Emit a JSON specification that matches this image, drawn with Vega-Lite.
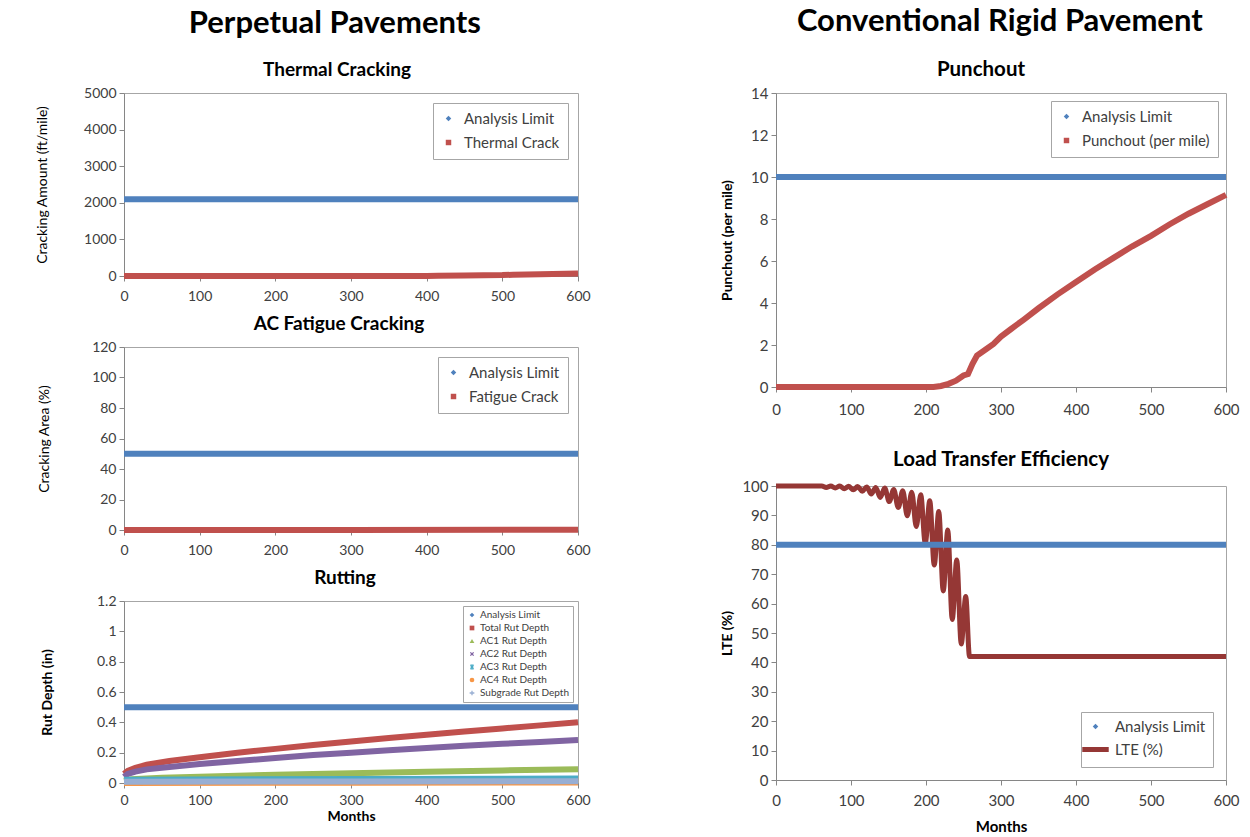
{
  "$schema": "https://vega.github.io/schema/vega-lite/v6.json",
  "background": "white",
  "padding": {"left": 35, "top": 6, "right": 4, "bottom": 0},
  "config": {
    "font": "Lato",
    "view": {"stroke": "#A6A6A6", "strokeWidth": 1},
    "axis": {"grid": false, "domainColor": "#868686", "tickColor": "#868686", "tickSize": 5, "labelFont": "Lato", "labelFontSize": 14, "labelColor": "#404040", "titleFont": "Lato", "titleFontSize": 13, "titleFontWeight": "bold", "titleColor": "#000000", "labelPadding": 3, "labelFlush": false},
    "title": {"font": "Lato", "fontSize": 19, "fontWeight": "bold", "color": "#000000", "offset": 6, "anchor": "middle"},
    "legend": {"title": null, "strokeColor": "#A6A6A6", "fillColor": "white", "labelFont": "Lato", "labelColor": "#404040"}
  },
  "datasets": {
    "thermal": [
      {"m": 0, "v": 2100, "s": "Analysis Limit"}, {"m": 600, "v": 2100, "s": "Analysis Limit"},
      {"m": 0, "v": 0, "s": "Thermal Crack"}, {"m": 100, "v": 0, "s": "Thermal Crack"}, {"m": 200, "v": 0, "s": "Thermal Crack"}, {"m": 300, "v": 0, "s": "Thermal Crack"}, {"m": 400, "v": 0, "s": "Thermal Crack"}, {"m": 415, "v": 5, "s": "Thermal Crack"}, {"m": 450, "v": 13, "s": "Thermal Crack"}, {"m": 500, "v": 25, "s": "Thermal Crack"}, {"m": 514, "v": 35, "s": "Thermal Crack"}, {"m": 550, "v": 48, "s": "Thermal Crack"}, {"m": 600, "v": 68, "s": "Thermal Crack"}
    ],
    "fatigue": [
      {"m": 0, "v": 50, "s": "Analysis Limit"}, {"m": 600, "v": 50, "s": "Analysis Limit"},
      {"m": 0, "v": 0, "s": "Fatigue Crack"}, {"m": 300, "v": 0.05, "s": "Fatigue Crack"}, {"m": 600, "v": 0.1, "s": "Fatigue Crack"}
    ],
    "rutting": [
      {"m": 0, "v": 0.5, "s": "Analysis Limit"}, {"m": 600, "v": 0.5, "s": "Analysis Limit"},
      {"m": 0, "v": 0.06, "s": "Total Rut Depth"}, {"m": 5, "v": 0.08, "s": "Total Rut Depth"}, {"m": 15, "v": 0.1, "s": "Total Rut Depth"}, {"m": 30, "v": 0.12, "s": "Total Rut Depth"}, {"m": 60, "v": 0.145, "s": "Total Rut Depth"}, {"m": 100, "v": 0.17, "s": "Total Rut Depth"}, {"m": 150, "v": 0.2, "s": "Total Rut Depth"}, {"m": 200, "v": 0.225, "s": "Total Rut Depth"}, {"m": 250, "v": 0.25, "s": "Total Rut Depth"}, {"m": 300, "v": 0.273, "s": "Total Rut Depth"}, {"m": 350, "v": 0.296, "s": "Total Rut Depth"}, {"m": 400, "v": 0.318, "s": "Total Rut Depth"}, {"m": 450, "v": 0.34, "s": "Total Rut Depth"}, {"m": 500, "v": 0.36, "s": "Total Rut Depth"}, {"m": 550, "v": 0.38, "s": "Total Rut Depth"}, {"m": 600, "v": 0.4, "s": "Total Rut Depth"},
      {"m": 0, "v": 0.015, "s": "AC1 Rut Depth"}, {"m": 10, "v": 0.025, "s": "AC1 Rut Depth"}, {"m": 50, "v": 0.035, "s": "AC1 Rut Depth"}, {"m": 100, "v": 0.042, "s": "AC1 Rut Depth"}, {"m": 200, "v": 0.055, "s": "AC1 Rut Depth"}, {"m": 300, "v": 0.065, "s": "AC1 Rut Depth"}, {"m": 400, "v": 0.074, "s": "AC1 Rut Depth"}, {"m": 500, "v": 0.083, "s": "AC1 Rut Depth"}, {"m": 600, "v": 0.09, "s": "AC1 Rut Depth"},
      {"m": 0, "v": 0.04, "s": "AC2 Rut Depth"}, {"m": 5, "v": 0.06, "s": "AC2 Rut Depth"}, {"m": 15, "v": 0.075, "s": "AC2 Rut Depth"}, {"m": 30, "v": 0.09, "s": "AC2 Rut Depth"}, {"m": 60, "v": 0.105, "s": "AC2 Rut Depth"}, {"m": 100, "v": 0.125, "s": "AC2 Rut Depth"}, {"m": 150, "v": 0.145, "s": "AC2 Rut Depth"}, {"m": 200, "v": 0.165, "s": "AC2 Rut Depth"}, {"m": 250, "v": 0.184, "s": "AC2 Rut Depth"}, {"m": 300, "v": 0.2, "s": "AC2 Rut Depth"}, {"m": 350, "v": 0.216, "s": "AC2 Rut Depth"}, {"m": 400, "v": 0.231, "s": "AC2 Rut Depth"}, {"m": 450, "v": 0.245, "s": "AC2 Rut Depth"}, {"m": 500, "v": 0.258, "s": "AC2 Rut Depth"}, {"m": 550, "v": 0.271, "s": "AC2 Rut Depth"}, {"m": 600, "v": 0.283, "s": "AC2 Rut Depth"},
      {"m": 0, "v": 0.022, "s": "AC3 Rut Depth"}, {"m": 300, "v": 0.026, "s": "AC3 Rut Depth"}, {"m": 600, "v": 0.03, "s": "AC3 Rut Depth"},
      {"m": 0, "v": 0.0, "s": "AC4 Rut Depth"}, {"m": 300, "v": 0.002, "s": "AC4 Rut Depth"}, {"m": 600, "v": 0.003, "s": "AC4 Rut Depth"},
      {"m": 0, "v": 0.008, "s": "Subgrade Rut Depth"}, {"m": 300, "v": 0.01, "s": "Subgrade Rut Depth"}, {"m": 600, "v": 0.012, "s": "Subgrade Rut Depth"}
    ],
    "punchout": [
      {"m": 0, "v": 10, "s": "Analysis Limit"}, {"m": 600, "v": 10, "s": "Analysis Limit"},
      {"m": 0, "v": 0, "s": "Punchout (per mile)"}, {"m": 100, "v": 0, "s": "Punchout (per mile)"}, {"m": 200, "v": 0, "s": "Punchout (per mile)"}, {"m": 210, "v": 0, "s": "Punchout (per mile)"}, {"m": 220, "v": 0.05, "s": "Punchout (per mile)"}, {"m": 230, "v": 0.15, "s": "Punchout (per mile)"}, {"m": 240, "v": 0.3, "s": "Punchout (per mile)"}, {"m": 250, "v": 0.55, "s": "Punchout (per mile)"}, {"m": 256, "v": 0.62, "s": "Punchout (per mile)"}, {"m": 262, "v": 1.1, "s": "Punchout (per mile)"}, {"m": 268, "v": 1.5, "s": "Punchout (per mile)"}, {"m": 280, "v": 1.8, "s": "Punchout (per mile)"}, {"m": 290, "v": 2.05, "s": "Punchout (per mile)"}, {"m": 300, "v": 2.4, "s": "Punchout (per mile)"}, {"m": 313, "v": 2.75, "s": "Punchout (per mile)"}, {"m": 330, "v": 3.2, "s": "Punchout (per mile)"}, {"m": 350, "v": 3.75, "s": "Punchout (per mile)"}, {"m": 375, "v": 4.4, "s": "Punchout (per mile)"}, {"m": 400, "v": 5.0, "s": "Punchout (per mile)"}, {"m": 425, "v": 5.6, "s": "Punchout (per mile)"}, {"m": 450, "v": 6.15, "s": "Punchout (per mile)"}, {"m": 475, "v": 6.7, "s": "Punchout (per mile)"}, {"m": 500, "v": 7.2, "s": "Punchout (per mile)"}, {"m": 525, "v": 7.75, "s": "Punchout (per mile)"}, {"m": 550, "v": 8.25, "s": "Punchout (per mile)"}, {"m": 575, "v": 8.7, "s": "Punchout (per mile)"}, {"m": 600, "v": 9.15, "s": "Punchout (per mile)"}
    ],
    "lte": [
      {"m": 0, "v": 100, "s": "LTE (%)"}, {"m": 61, "v": 100, "s": "LTE (%)"}, {"m": 67, "v": 99.5, "s": "LTE (%)"}, {"m": 73, "v": 100, "s": "LTE (%)"}, {"m": 79, "v": 99.3, "s": "LTE (%)"}, {"m": 85, "v": 100, "s": "LTE (%)"}, {"m": 91, "v": 99.1, "s": "LTE (%)"}, {"m": 97, "v": 99.9, "s": "LTE (%)"}, {"m": 103, "v": 98.7, "s": "LTE (%)"}, {"m": 109, "v": 99.8, "s": "LTE (%)"}, {"m": 115, "v": 98.2, "s": "LTE (%)"}, {"m": 121, "v": 99.7, "s": "LTE (%)"}, {"m": 127, "v": 97.3, "s": "LTE (%)"}, {"m": 133, "v": 99.5, "s": "LTE (%)"}, {"m": 139, "v": 96.1, "s": "LTE (%)"}, {"m": 145, "v": 99.3, "s": "LTE (%)"}, {"m": 151, "v": 94.7, "s": "LTE (%)"}, {"m": 157, "v": 98.8, "s": "LTE (%)"}, {"m": 163, "v": 92.7, "s": "LTE (%)"}, {"m": 169, "v": 98.4, "s": "LTE (%)"}, {"m": 175, "v": 89.9, "s": "LTE (%)"}, {"m": 181, "v": 97.9, "s": "LTE (%)"}, {"m": 187, "v": 86.2, "s": "LTE (%)"}, {"m": 193, "v": 97.0, "s": "LTE (%)"}, {"m": 199, "v": 80.5, "s": "LTE (%)"}, {"m": 205, "v": 95.0, "s": "LTE (%)"}, {"m": 211, "v": 73.1, "s": "LTE (%)"}, {"m": 217, "v": 91.3, "s": "LTE (%)"}, {"m": 223, "v": 64.3, "s": "LTE (%)"}, {"m": 229, "v": 85.0, "s": "LTE (%)"}, {"m": 235, "v": 54.6, "s": "LTE (%)"}, {"m": 241, "v": 74.8, "s": "LTE (%)"}, {"m": 247, "v": 46.3, "s": "LTE (%)"}, {"m": 253, "v": 62.4, "s": "LTE (%)"}, {"m": 258, "v": 42, "s": "LTE (%)"}, {"m": 300, "v": 42, "s": "LTE (%)"}, {"m": 400, "v": 42, "s": "LTE (%)"}, {"m": 500, "v": 42, "s": "LTE (%)"}, {"m": 600, "v": 42, "s": "LTE (%)"}
    ],
    "lteLimit": [
      {"m": 0, "v": 80, "s": "Analysis Limit"}, {"m": 600, "v": 80, "s": "Analysis Limit"}
    ]
  },
  "resolve": {"scale": {"color": "independent"}, "legend": {"color": "independent"}},
  "spacing": 129,
  "hconcat": [
    {
      "title": {"text": "Perpetual Pavements", "fontSize": 31, "offset": 21, "dx": 22},
      "spacing": 10,
      "resolve": {"scale": {"color": "independent"}, "legend": {"color": "independent"}},
      "vconcat": [
        {
          "title": {"text": "Thermal Cracking", "dx": -14},
          "width": 454, "height": 183,
          "data": {"name": "thermal"},
          "mark": {"type": "line", "strokeWidth": 6},
          "encoding": {
            "x": {"field": "m", "type": "quantitative", "scale": {"domain": [0, 600], "nice": false}, "axis": {"values": [0, 100, 200, 300, 400, 500, 600], "title": null, "labelPadding": 8}},
            "y": {"field": "v", "type": "quantitative", "scale": {"domain": [0, 5000], "nice": false}, "axis": {"values": [0, 1000, 2000, 3000, 4000, 5000], "format": "d", "title": "Cracking Amount (ft/mile)", "titleFontWeight": "normal", "titleFontSize": 14, "titlePadding": 34}},
            "color": {"field": "s", "type": "nominal", "scale": {"domain": ["Analysis Limit", "Thermal Crack"], "range": ["#4F81BD", "#C0504D"]},
              "legend": {"orient": "top-right", "offset": 10, "padding": 8, "labelFontSize": 15, "rowPadding": 8, "symbolSize": 30, "labelOffset": 8,
                "encode": {"symbols": {"update": {"shape": {"signal": "datum.value === 'Analysis Limit' ? 'diamond' : 'square'"}, "fill": {"signal": "datum.value === 'Analysis Limit' ? '#4F81BD' : '#C0504D'"}, "fillOpacity": {"value": 1}, "strokeWidth": {"value": 0}}}}}}
          }
        },
        {
          "title": {"text": "AC Fatigue Cracking", "dx": -12},
          "width": 454, "height": 183,
          "data": {"name": "fatigue"},
          "mark": {"type": "line", "strokeWidth": 6},
          "encoding": {
            "x": {"field": "m", "type": "quantitative", "scale": {"domain": [0, 600], "nice": false}, "axis": {"values": [0, 100, 200, 300, 400, 500, 600], "title": null, "labelPadding": 8}},
            "y": {"field": "v", "type": "quantitative", "scale": {"domain": [0, 120], "nice": false}, "axis": {"values": [0, 20, 40, 60, 80, 100, 120], "title": "Cracking Area (%)", "titleFontWeight": "normal", "titleFontSize": 14, "titlePadding": 40}},
            "color": {"field": "s", "type": "nominal", "scale": {"domain": ["Analysis Limit", "Fatigue Crack"], "range": ["#4F81BD", "#C0504D"]},
              "legend": {"orient": "top-right", "offset": 10, "padding": 8, "labelFontSize": 15, "rowPadding": 8, "symbolSize": 30, "labelOffset": 8,
                "encode": {"symbols": {"update": {"shape": {"signal": "datum.value === 'Analysis Limit' ? 'diamond' : 'square'"}, "fill": {"signal": "datum.value === 'Analysis Limit' ? '#4F81BD' : '#C0504D'"}, "fillOpacity": {"value": 1}, "strokeWidth": {"value": 0}}}}}}
          }
        },
        {
          "title": {"text": "Rutting", "dx": -6},
          "width": 454, "height": 182,
          "data": {"name": "rutting"},
          "mark": {"type": "line"},
          "encoding": {
            "x": {"field": "m", "type": "quantitative", "scale": {"domain": [0, 600], "nice": false}, "axis": {"values": [0, 100, 200, 300, 400, 500, 600], "title": "Months", "titleFontSize": 14, "titlePadding": 2, "labelPadding": 5}},
            "y": {"field": "v", "type": "quantitative", "scale": {"domain": [0, 1.2], "nice": false}, "axis": {"values": [0, 0.2, 0.4, 0.6, 0.8, 1, 1.2], "format": "~g", "title": "Rut Depth (in)", "titleFontSize": 14, "titlePadding": 42}},
            "strokeWidth": {"field": "s", "type": "nominal", "scale": {"domain": ["Analysis Limit", "Total Rut Depth", "AC1 Rut Depth", "AC2 Rut Depth", "AC3 Rut Depth", "AC4 Rut Depth", "Subgrade Rut Depth"], "range": [6, 6, 6, 5, 2, 2, 6]}, "legend": null},
            "color": {"field": "s", "type": "nominal", "scale": {"domain": ["Analysis Limit", "Total Rut Depth", "AC1 Rut Depth", "AC2 Rut Depth", "AC3 Rut Depth", "AC4 Rut Depth", "Subgrade Rut Depth"], "range": ["#4F81BD", "#C0504D", "#9BBB59", "#8064A2", "#4BACC6", "#F79646", "#98AED3"]},
              "legend": {"orient": "top-right", "offset": 5, "padding": 4, "labelFontSize": 10, "rowPadding": 3, "symbolSize": 22, "labelOffset": 3,
                "encode": {"symbols": {"update": {
                  "shape": {"signal": "['diamond','square','triangle-up','M-0.7,-0.7L0.7,0.7M-0.7,0.7L0.7,-0.7','M-0.7,-0.7L0.7,0.7M-0.7,0.7L0.7,-0.7M-0.7,-0.8L0.7,-0.8M-0.7,0.8L0.7,0.8','circle','M-1,0L1,0M0,-1L0,1'][indexof(['Analysis Limit','Total Rut Depth','AC1 Rut Depth','AC2 Rut Depth','AC3 Rut Depth','AC4 Rut Depth','Subgrade Rut Depth'], datum.value)]"},
                  "fill": {"signal": "['#4F81BD','#C0504D','#9BBB59','#8064A2','#4BACC6','#F79646','#98AED3'][indexof(['Analysis Limit','Total Rut Depth','AC1 Rut Depth','AC2 Rut Depth','AC3 Rut Depth','AC4 Rut Depth','Subgrade Rut Depth'], datum.value)]"},
                  "stroke": {"signal": "['#4F81BD','#C0504D','#9BBB59','#8064A2','#4BACC6','#F79646','#98AED3'][indexof(['Analysis Limit','Total Rut Depth','AC1 Rut Depth','AC2 Rut Depth','AC3 Rut Depth','AC4 Rut Depth','Subgrade Rut Depth'], datum.value)]"},
                  "fillOpacity": {"value": 1},
                  "strokeWidth": {"signal": "indexof(['AC2 Rut Depth','AC3 Rut Depth','Subgrade Rut Depth'], datum.value) >= 0 ? 1.3 : 0"}}}}}}
          }
        }
      ]
    },
    {
      "title": {"text": "Conventional Rigid Pavement", "fontSize": 31, "offset": 21, "dx": 20},
      "spacing": 31,
      "resolve": {"scale": {"color": "independent"}, "legend": {"color": "independent"}},
      "vconcat": [
        {
          "title": {"text": "Punchout", "fontSize": 20.5, "dx": -20},
          "width": 450, "height": 294,
          "data": {"name": "punchout"},
          "mark": {"type": "line", "strokeWidth": 6},
          "encoding": {
            "x": {"field": "m", "type": "quantitative", "scale": {"domain": [0, 600], "nice": false}, "axis": {"values": [0, 100, 200, 300, 400, 500, 600], "title": null, "labelFontSize": 15, "labelPadding": 10}},
            "y": {"field": "v", "type": "quantitative", "scale": {"domain": [0, 14], "nice": false}, "axis": {"values": [0, 2, 4, 6, 8, 10, 12, 14], "title": "Punchout (per mile)", "titleFontSize": 14, "labelFontSize": 15, "titlePadding": 16}},
            "color": {"field": "s", "type": "nominal", "scale": {"domain": ["Analysis Limit", "Punchout (per mile)"], "range": ["#4F81BD", "#C0504D"]},
              "legend": {"orient": "top-right", "offset": 8, "padding": 8, "labelFontSize": 15, "rowPadding": 8, "symbolSize": 30, "labelOffset": 8,
                "encode": {"symbols": {"update": {"shape": {"signal": "datum.value === 'Analysis Limit' ? 'diamond' : 'square'"}, "fill": {"signal": "datum.value === 'Analysis Limit' ? '#4F81BD' : '#C0504D'"}, "fillOpacity": {"value": 1}, "strokeWidth": {"value": 0}}}}}}
          }
        },
        {
          "title": {"text": "Load Transfer Efficiency", "fontSize": 20.5},
          "width": 450, "height": 294,
          "layer": [
            {
              "data": {"name": "lte"},
              "mark": {"type": "line", "strokeWidth": 5, "interpolate": "monotone"},
              "encoding": {
                "x": {"field": "m", "type": "quantitative"},
                "y": {"field": "v", "type": "quantitative"},
                "color": {"field": "s", "type": "nominal"}
              }
            },
            {
              "data": {"name": "lteLimit"},
              "mark": {"type": "line", "strokeWidth": 6},
              "encoding": {
                "x": {"field": "m", "type": "quantitative"},
                "y": {"field": "v", "type": "quantitative"},
                "color": {"field": "s", "type": "nominal"}
              }
            }
          ],
          "encoding": {
            "x": {"field": "m", "type": "quantitative", "scale": {"domain": [0, 600], "nice": false}, "axis": {"values": [0, 100, 200, 300, 400, 500, 600], "title": "Months", "titleFontSize": 15, "labelFontSize": 15, "labelPadding": 8, "titlePadding": 11}},
            "y": {"field": "v", "type": "quantitative", "scale": {"domain": [0, 100], "nice": false}, "axis": {"values": [0, 10, 20, 30, 40, 50, 60, 70, 80, 90, 100], "title": "LTE (%)", "titleFontSize": 14, "labelFontSize": 15, "titlePadding": 7}},
            "color": {"field": "s", "type": "nominal", "scale": {"domain": ["Analysis Limit", "LTE (%)"], "range": ["#4F81BD", "#953735"]},
              "legend": {"orient": "bottom-right", "offset": 13, "padding": 7, "labelFontSize": 15, "rowPadding": 4, "symbolSize": 200, "labelOffset": 12,
                "encode": {"symbols": {"update": {"shape": {"signal": "datum.value === 'Analysis Limit' ? 'diamond' : 'stroke'"}, "size": {"signal": "datum.value === 'Analysis Limit' ? 30 : 700"}, "fill": {"signal": "datum.value === 'Analysis Limit' ? '#4F81BD' : '#953735'"}, "stroke": {"signal": "datum.value === 'Analysis Limit' ? '#4F81BD' : '#953735'"}, "fillOpacity": {"value": 1}, "strokeWidth": {"signal": "datum.value === 'Analysis Limit' ? 0 : 5"}}}}}}
          }
        }
      ]
    }
  ]
}
